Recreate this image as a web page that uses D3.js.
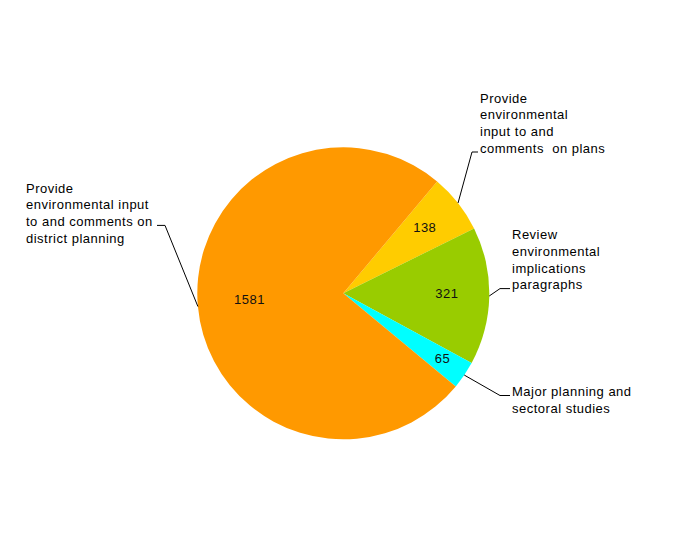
<!DOCTYPE html>
<html>
<head>
<meta charset="utf-8">
<script src="https://cdn.jsdelivr.net/npm/d3@7/dist/d3.min.js"></script>
<style>
  body { margin: 0; background: #fff; }
  svg { display: block; font-family: "Liberation Sans", Arial, sans-serif; }
  text { white-space: pre; letter-spacing: 0.5px; }
</style>
</head>
<body>
<svg id="chart" width="675" height="547"></svg>
<script>
// slice order goes clockwise, starting at the upper right
const categories = [
  'Provide\nenvironmental\ninput to and\ncomments  on plans',
  'Review\nenvironmental\nimplications\nparagraphs',
  'Major planning and\nsectoral studies',
  'Provide\nenvironmental input\nto and comments on\ndistrict planning'
];
const values = [138, 321, 65, 1581];
const colors = ['#FFCC00', '#99CC00', '#00FFFF', '#FF9900'];

const width = 675, height = 547;
const cx = 343.3, cy = 293.3, radius = 146;
const startDeg = 40;

// label block layout: text left x, first baseline, which line the leader meets, elbow x, end x of horizontal tick
const labelLayout = [
  { x: 480, y: 102.7, line: 3, elbowX: 472, endX: 478 },
  { x: 512, y: 239.3, line: 3, elbowX: 500, endX: 510 },
  { x: 512, y: 396,   line: 0, elbowX: 500, endX: 510 },
  { x: 26,  y: 192.7, line: 2, elbowX: 165, endX: 157 }
];
const lineH = 16.6;

const svg = d3.select('#chart');
const g = svg.append('g').attr('transform', `translate(${cx},${cy})`);

const total = d3.sum(values);
const pie = d3.pie()
  .sort(null)
  .startAngle(startDeg * Math.PI / 180)
  .endAngle((startDeg + 360) * Math.PI / 180);
const arcs = pie(values);

const arc = d3.arc().innerRadius(0).outerRadius(radius);

g.selectAll('path.slice')
  .data(arcs)
  .enter().append('path')
  .attr('class', 'slice')
  .attr('fill', (d, i) => colors[i])
  .attr('d', arc);

// value labels, pushed outward a bit for thin slices
const labelR = d => {
  const share = d.value / total;
  if (share < 0.05) return radius * 0.82;
  if (share > 0.5) return radius * 0.645;
  return radius * 0.71;
};

g.selectAll('text.val')
  .data(arcs)
  .enter().append('text')
  .attr('class', 'val')
  .attr('x', d => Math.sin((d.startAngle + d.endAngle) / 2) * labelR(d))
  .attr('y', d => -Math.cos((d.startAngle + d.endAngle) / 2) * labelR(d) - 2)
  .attr('dy', '0.35em')
  .attr('text-anchor', 'middle')
  .style('font-size', '13px')
  .style('fill', '#111')
  .text(d => d.value);

// leader lines from slice edge to labels
arcs.forEach((d, i) => {
  const L = labelLayout[i];
  const mid = (d.startAngle + d.endAngle) / 2;
  const ex = cx + Math.sin(mid) * radius;
  const ey = cy - Math.cos(mid) * radius;
  const ly = L.y + L.line * lineH - 0.5;
  svg.append('polyline')
    .attr('points', `${ex},${ey} ${L.elbowX},${ly} ${L.endX},${ly}`)
    .attr('fill', 'none')
    .attr('stroke', '#000')
    .attr('stroke-width', 1);

  const t = svg.append('text')
    .attr('x', L.x)
    .attr('y', L.y)
    .style('font-size', '13px')
    .style('fill', '#000');
  categories[i].split('\n').forEach((s, j) => {
    t.append('tspan')
      .attr('x', L.x)
      .attr('y', L.y + j * lineH)
      .text(s);
  });
});
</script>
</body>
</html>
